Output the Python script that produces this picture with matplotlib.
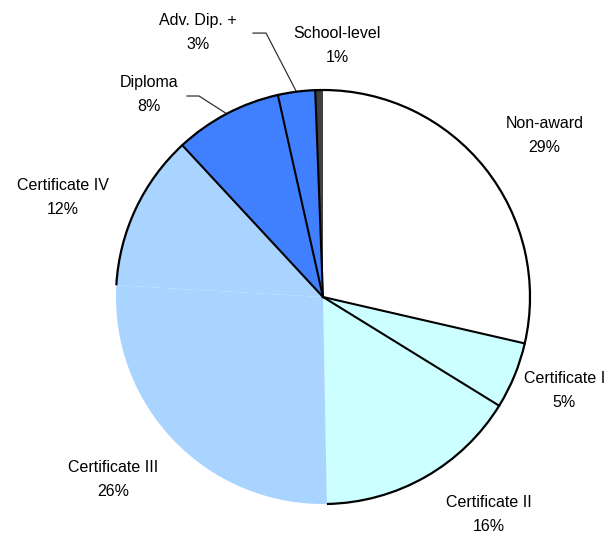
import numpy as np
import matplotlib
matplotlib.use("Agg")
import matplotlib.pyplot as plt
from matplotlib.patches import Arc

plt.rcParams['font.family'] = ['Liberation Sans', 'DejaVu Sans']

categories = ['Non-award', 'Certificate I', 'Certificate II', 'Certificate III',
              'Certificate IV', 'Diploma', 'Adv. Dip. +', 'School-level']
shares = [28.6, 5.2, 15.9, 26.2, 12.2, 8.4, 2.9, 0.6]
colors = ['#FFFFFF', '#CCFFFF', '#CCFFFF', '#A8D4FF',
          '#A8D4FF', '#4080FF', '#4080FF', '#404040']

# label block centres (data units, radius = 1)
label_xy = [(1.07, 0.78), (1.165, -0.45), (0.80, -1.05), (-1.014, -0.884),
            (-1.256, 0.483), (-0.841, 0.976), (-0.604, 1.28), (0.068, 1.213)]
# leader line start / knee for the small slices
leaders = {5: [(-0.657, 0.971), (-0.599, 0.971)],
           6: [(-0.338, 1.275), (-0.275, 1.275)]}

fig = plt.figure(figsize=(6.16, 5.35), dpi=100)
ax = fig.add_axes([0, 0, 1, 1])

wedges, _ = ax.pie(shares, colors=colors, startangle=90, counterclock=False,
                   radius=1, wedgeprops=dict(linewidth=0))

# outer outline (Certificate III has none in the original)
for i, w in enumerate(wedges):
    if i == 3:
        continue
    ax.add_patch(Arc((0, 0), 2, 2, theta1=w.theta1, theta2=w.theta2,
                     color='black', lw=1.6, zorder=3))

# radial separators
for i in [1, 2, 5, 6, 7]:
    a = np.deg2rad(wedges[i].theta2)
    ax.plot([0, np.cos(a)], [0, np.sin(a)], color='black', lw=1.5, zorder=3)

total = sum(shares)
for i, (name, val) in enumerate(zip(categories, shares)):
    x, y = label_xy[i]
    ax.text(x, y, '%s\n%.0f%%' % (name, val / total * 100), ha='center',
            va='center', fontsize=11.5, linespacing=1.75, color='black')
    if i in leaders:
        mid = np.deg2rad((wedges[i].theta1 + wedges[i].theta2) / 2)
        pts = leaders[i] + [(np.cos(mid), np.sin(mid))]
        ax.plot([p[0] for p in pts], [p[1] for p in pts], color='#333333', lw=0.9)

s = 207.0
ax.set_xlim(-323 / s, (616 - 323) / s)
ax.set_ylim(-(535 - 297) / s, 297 / s)
ax.axis('off')

plt.savefig('out.png', dpi=100)
